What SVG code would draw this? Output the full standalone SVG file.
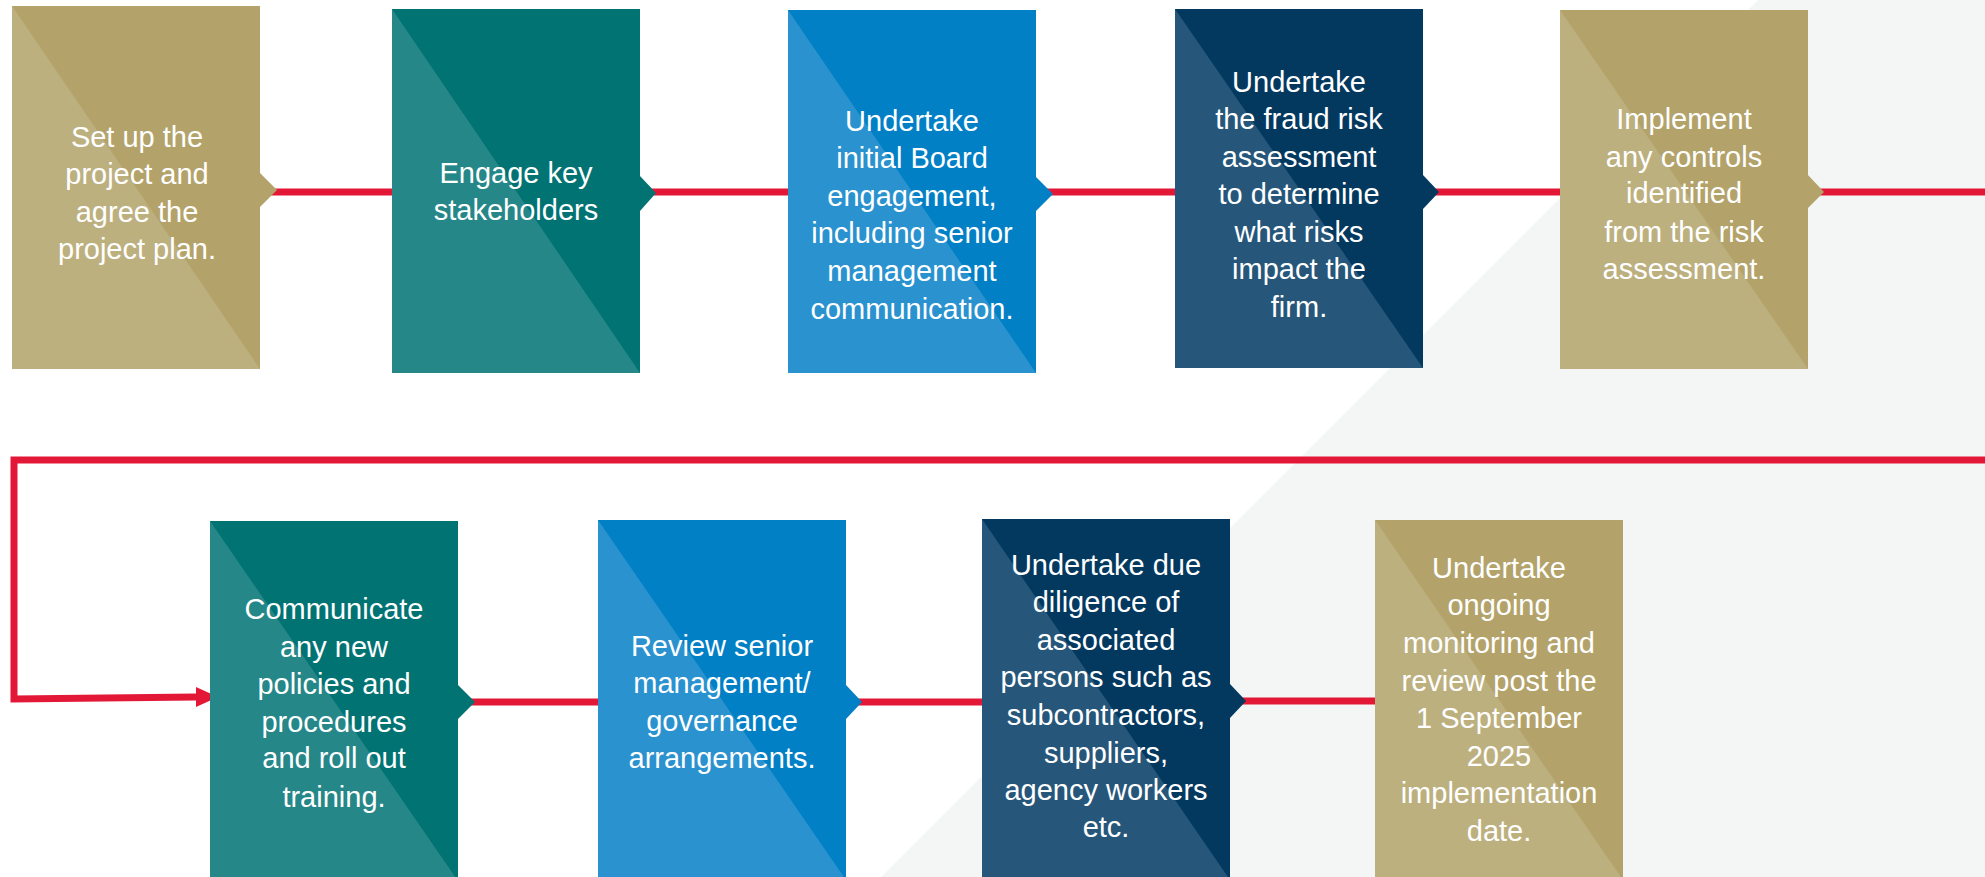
<svg xmlns="http://www.w3.org/2000/svg" width="1985" height="877" viewBox="0 0 1985 877">
<style>
.t{font-family:"Liberation Sans",Arial,sans-serif;font-size:29px;fill:#ffffff;text-anchor:middle}
.gold .d{fill:#b3a36a}.gold .l{fill:#bdb07f}
.teal .d{fill:#027373}.teal .l{fill:#268788}
.blue .d{fill:#0280c6}.blue .l{fill:#2a92cf}
.navy .d{fill:#03395f}.navy .l{fill:#26577a}
.ln{stroke:#e31837;stroke-width:7;fill:none}
</style>
<rect x="0" y="0" width="1985" height="877" fill="#ffffff"/>
<polygon points="1758,0 1985,0 1985,877 881,877" fill="#f4f6f6"/>
<g id="connectors">
<line class="ln" x1="260" y1="192" x2="392" y2="192"/>
<line class="ln" x1="640" y1="192" x2="788" y2="192"/>
<line class="ln" x1="1036" y1="192" x2="1175" y2="192"/>
<line class="ln" x1="1423" y1="192" x2="1560" y2="192"/>
<line class="ln" x1="1808" y1="192" x2="1985" y2="192"/>
<polyline class="ln" points="1985,460 14,460 14,699 196,697"/>
<polygon points="196,687 218,697 196,707" fill="#e31837"/>
<line class="ln" x1="458" y1="702" x2="598" y2="702"/>
<line class="ln" x1="846" y1="702" x2="982" y2="702"/>
<line class="ln" x1="1230" y1="701" x2="1375" y2="701"/>
</g>
<g id="n1" class="gold">
<rect class="d" x="12" y="6" width="248" height="363"/>
<polygon class="l" points="12,6 12,369 260,369"/>
<polygon class="d" points="260,173 277,190 260,207"/>
<text class="t"><tspan x="137" y="147">Set up the</tspan><tspan x="137" y="184">project and</tspan><tspan x="137" y="222">agree the</tspan><tspan x="137" y="259">project plan.</tspan></text>
</g>
<g id="n2" class="teal">
<rect class="d" x="392" y="9" width="248" height="364"/>
<polygon class="l" points="392,9 392,373 640,373"/>
<polygon class="d" points="640,176 656,193 640,211"/>
<text class="t"><tspan x="516" y="183">Engage key</tspan><tspan x="516" y="220">stakeholders</tspan></text>
</g>
<g id="n3" class="blue">
<rect class="d" x="788" y="10" width="248" height="363"/>
<polygon class="l" points="788,10 788,373 1036,373"/>
<polygon class="d" points="1036,177 1053,194 1036,211"/>
<text class="t"><tspan x="912" y="131">Undertake</tspan><tspan x="912" y="168">initial Board</tspan><tspan x="912" y="206">engagement,</tspan><tspan x="912" y="243">including senior</tspan><tspan x="912" y="281">management</tspan><tspan x="912" y="319">communication.</tspan></text>
</g>
<g id="n4" class="navy">
<rect class="d" x="1175" y="9" width="248" height="359"/>
<polygon class="l" points="1175,9 1175,368 1423,368"/>
<polygon class="d" points="1423,175 1439,192 1423,209"/>
<text class="t"><tspan x="1299" y="92">Undertake</tspan><tspan x="1299" y="129">the fraud risk</tspan><tspan x="1299" y="167">assessment</tspan><tspan x="1299" y="204">to determine</tspan><tspan x="1299" y="242">what risks</tspan><tspan x="1299" y="279">impact the</tspan><tspan x="1299" y="317">firm.</tspan></text>
</g>
<g id="n5" class="gold">
<rect class="d" x="1560" y="10" width="248" height="359"/>
<polygon class="l" points="1560,10 1560,369 1808,369"/>
<polygon class="d" points="1808,175 1824,192 1808,208"/>
<text class="t"><tspan x="1684" y="129">Implement</tspan><tspan x="1684" y="167">any controls</tspan><tspan x="1684" y="203">identified</tspan><tspan x="1684" y="242">from the risk</tspan><tspan x="1684" y="279">assessment.</tspan></text>
</g>
<g id="n6" class="teal">
<rect class="d" x="210" y="521" width="248" height="360"/>
<polygon class="l" points="210,521 210,881 458,881"/>
<polygon class="d" points="458,685 475,702 458,719"/>
<text class="t"><tspan x="334" y="619">Communicate</tspan><tspan x="334" y="657">any new</tspan><tspan x="334" y="694">policies and</tspan><tspan x="334" y="732">procedures</tspan><tspan x="334" y="768">and roll out</tspan><tspan x="334" y="807">training.</tspan></text>
</g>
<g id="n7" class="blue">
<rect class="d" x="598" y="520" width="248" height="360"/>
<polygon class="l" points="598,520 598,880 846,880"/>
<polygon class="d" points="846,685 862,702 846,719"/>
<text class="t"><tspan x="722" y="656">Review senior</tspan><tspan x="722" y="693">management/</tspan><tspan x="722" y="731">governance</tspan><tspan x="722" y="768">arrangements.</tspan></text>
</g>
<g id="n8" class="navy">
<rect class="d" x="982" y="519" width="248" height="361"/>
<polygon class="l" points="982,519 982,880 1230,880"/>
<polygon class="d" points="1230,684 1246,701 1230,718"/>
<text class="t"><tspan x="1106" y="575">Undertake due</tspan><tspan x="1106" y="612">diligence of</tspan><tspan x="1106" y="650">associated</tspan><tspan x="1106" y="687">persons such as</tspan><tspan x="1106" y="725">subcontractors,</tspan><tspan x="1106" y="763">suppliers,</tspan><tspan x="1106" y="800">agency workers</tspan><tspan x="1106" y="837">etc.</tspan></text>
</g>
<g id="n9" class="gold">
<rect class="d" x="1375" y="520" width="248" height="360"/>
<polygon class="l" points="1375,520 1375,880 1623,880"/>
<text class="t"><tspan x="1499" y="578">Undertake</tspan><tspan x="1499" y="615">ongoing</tspan><tspan x="1499" y="653">monitoring and</tspan><tspan x="1499" y="691">review post the</tspan><tspan x="1499" y="728">1 September</tspan><tspan x="1499" y="766">2025</tspan><tspan x="1499" y="803">implementation</tspan><tspan x="1499" y="841">date.</tspan></text>
</g>
</svg>
